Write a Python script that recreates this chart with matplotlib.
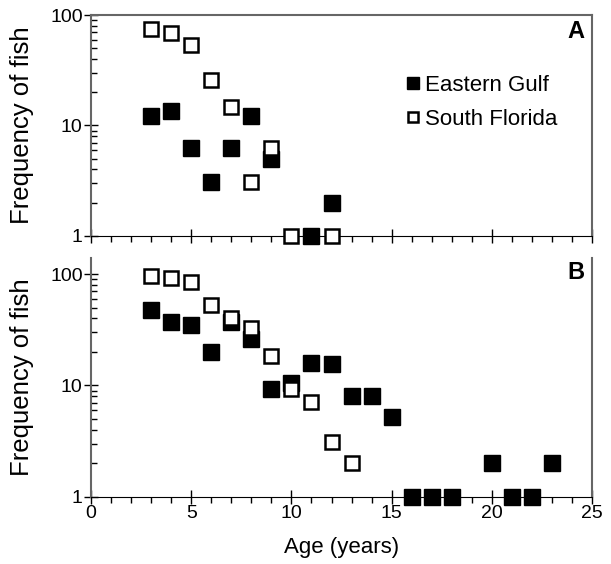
import numpy as np
import matplotlib.pyplot as plt
from matplotlib.ticker import FixedLocator, NullFormatter, MultipleLocator, LogLocator

plt.rcParams['font.family'] = ['Liberation Sans', 'DejaVu Sans']

# panel A
age_eg_a = [3, 4, 5, 6, 7, 8, 9, 11, 12]
freq_eg_a = [12.3, 13.5, 6.2, 3.1, 6.2, 12.3, 5.0, 1, 2.0]
age_sf_a = [3, 4, 5, 6, 7, 8, 9, 10, 12]
freq_sf_a = [75, 69, 54, 26, 14.7, 3.1, 6.3, 1, 1]

# panel B
age_eg_b = [3, 4, 5, 6, 7, 8, 9, 10, 11, 12, 13, 14, 15, 16, 17, 18, 20, 21, 22, 23]
freq_eg_b = [48, 37, 35, 20, 37, 26, 9.3, 10.5, 16, 15.5, 8.1, 8.1, 5.2, 1, 1, 1, 2, 1, 1, 2]
age_sf_b = [3, 4, 5, 6, 7, 8, 9, 10, 11, 12, 13]
freq_sf_b = [96, 92, 84, 53, 40, 33, 18.3, 9.3, 7.1, 3.1, 2.0]

gray = "#666666"

def style_axes(ax, top_ylim, show_top, show_xlabels):
    ax.set_yscale("log")
    ax.set_xlim(0, 25)
    ax.set_ylim(1, top_ylim)
    ax.yaxis.set_major_locator(FixedLocator([1, 10, 100]))
    ax.set_yticklabels(["1", "10", "100"])
    ax.yaxis.set_minor_locator(LogLocator(base=10, subs=np.arange(2, 10)))
    ax.yaxis.set_minor_formatter(NullFormatter())
    ax.xaxis.set_major_locator(MultipleLocator(5))
    ax.xaxis.set_minor_locator(MultipleLocator(1))
    ax.tick_params(axis="y", which="major", direction="inout", length=10, width=1, labelsize=14, pad=1)
    ax.tick_params(axis="y", which="minor", direction="in", length=4, width=1)
    ax.tick_params(axis="x", which="major", direction="inout", length=10, width=1, labelsize=14, pad=1)
    ax.tick_params(axis="x", which="minor", direction="out", length=4, width=1)
    if not show_xlabels:
        ax.tick_params(axis="x", labelbottom=False)
    ax.spines["bottom"].set_color("black")
    for s in ["left", "right", "top"]:
        ax.spines[s].set_color(gray)
        ax.spines[s].set_linewidth(1.5)
    ax.spines["top"].set_visible(show_top)
    ax.set_ylabel("Frequency of fish", fontsize=18.5)
    ax.yaxis.set_label_coords(-0.114, 0.5)

fig = plt.figure(figsize=(6.11, 5.64), dpi=100)
axA = fig.add_axes([0.149, 0.582, 0.820, 0.391])
axB = fig.add_axes([0.149, 0.119, 0.820, 0.424])

for ax, ae, fe, asf, fsf in [(axA, age_eg_a, freq_eg_a, age_sf_a, freq_sf_a),
                             (axB, age_eg_b, freq_eg_b, age_sf_b, freq_sf_b)]:
    ax.plot(ae, fe, "s", ms=11, color="black", mec="black", clip_on=False,
            zorder=3, label="Eastern Gulf")
    ax.plot(asf, fsf, "s", ms=9.6, mfc="white", mec="black", mew=1.8,
            clip_on=False, zorder=4, label="South Florida")

style_axes(axA, 100, True, False)
style_axes(axB, 140, False, True)

axB.set_xlabel("Age (years)", fontsize=16, labelpad=11)

axA.text(0.985, 0.925, "A", transform=axA.transAxes, ha="right", va="center",
         fontsize=17, fontweight="bold")
axB.text(0.985, 0.94, "B", transform=axB.transAxes, ha="right", va="center",
         fontsize=17, fontweight="bold")

axA.legend(loc="upper left", bbox_to_anchor=(0.62, 0.73), frameon=False,
           fontsize=16, markerscale=0.75, handletextpad=0.05, handlelength=1.0,
           labelspacing=0.6, borderpad=0, borderaxespad=0)

fig.savefig("out.png", dpi=100)
